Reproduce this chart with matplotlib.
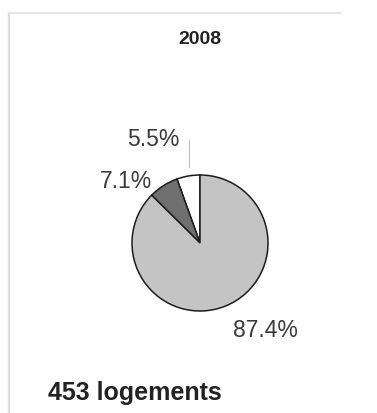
import matplotlib.pyplot as plt
from matplotlib.lines import Line2D

# données
annee = '2008'
total = '453 logements'
parts = [5.5, 7.1, 87.4]
etiquettes = ['5.5%', '7.1%', '87.4%']
couleurs = ['#ffffff', '#6f6f6f', '#c4c4c4']

W, H = 377, 413
fig = plt.figure(figsize=(W / 100, H / 100), dpi=100)
fig.patch.set_facecolor('white')

# cadre gris clair (haut et gauche)
fig.add_artist(Line2D([9 / W, 9 / W], [0, 1 - 13 / H], color='#dedede', lw=1.6))
fig.add_artist(Line2D([9 / W, 340 / W], [1 - 13 / H, 1 - 13 / H], color='#e4e4e4', lw=1.6))

# camembert : centre (200, 243) px, rayon 68 px
cx, cy, r = 200, 243, 68
ax = fig.add_axes([(cx - r) / W, 1 - (cy + r) / H, 2 * r / W, 2 * r / H])
ax.pie(parts, colors=couleurs, startangle=90, counterclock=True,
       wedgeprops=dict(edgecolor='#1c1c1c', linewidth=1.1))
ax.set_xlim(-1, 1)
ax.set_ylim(-1, 1)
ax.set_aspect('auto')
ax.axis('off')

pos = [(-0.69, 1.515), (-1.088, 0.904), (0.956, -1.294)]
for (x, y), txt in zip(pos, etiquettes):
    ax.text(x, y, txt, ha='center', va='center', fontsize=16.5,
            family='Liberation Sans', color='#3a3a3a')

# trait de rappel du 5.5%
ax.plot([-0.162, -0.162], [1.118, 1.515], color='#bdbdbd', lw=0.8, clip_on=False)

fig.text(200 / W, 1 - 40 / H, annee, ha='center', va='center', fontsize=14,
         fontweight='bold', family='Liberation Sans', color='#222222')
fig.text(48 / W, 1 - 393 / H, total, ha='left', va='center', fontsize=18,
         fontweight='bold', family='Liberation Sans', color='#222222')

fig.savefig('out.png', dpi=100)
plt.close()
